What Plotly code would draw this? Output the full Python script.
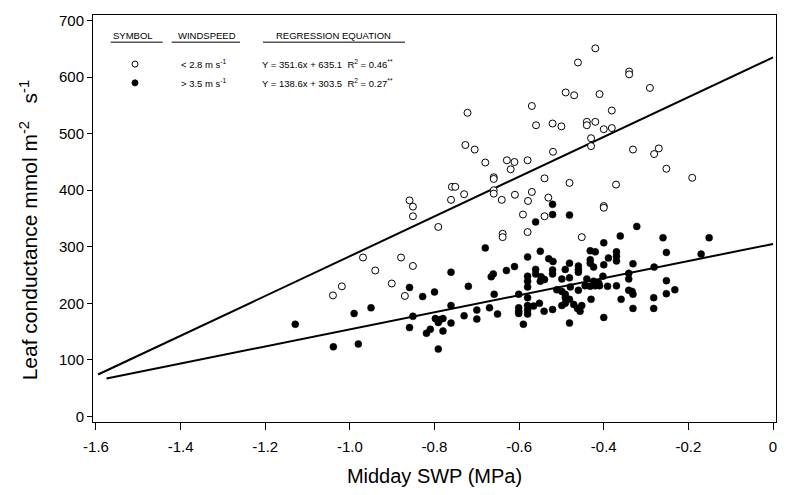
import plotly.graph_objects as go

# ---- data ----
low_wind_x = [-0.420, -0.461, -0.340, -0.340, -0.291, -0.490, -0.470, -0.410, -0.570, -0.381,
              -0.560, -0.521, -0.500, -0.440, -0.440, -0.420, -0.400, -0.381, -0.430, -0.430,
              -0.520, -0.331, -0.270, -0.281, -0.680, -0.629, -0.611, -0.620, -0.580, -0.252,
              -0.191, -0.660, -0.660, -0.540, -0.481, -0.371, -0.660, -0.660, -0.641, -0.610,
              -0.570, -0.579, -0.531, -0.400, -0.400, -0.591, -0.540,
              -0.722, -0.727, -0.705,
              -0.759, -0.751, -0.730, -0.859, -0.851, -0.851, -0.761, -0.791, -0.580, -0.639,
              -0.639, -0.452, -0.879, -0.851, -0.901, -0.870,
              -0.969, -0.940, -1.019, -1.040]
low_wind_y = [651, 626, 610, 605, 581, 573, 568, 570, 549, 541,
              515, 518, 513, 521, 515, 521, 508, 510, 492, 478,
              468, 472, 474, 464, 449, 453, 450, 437, 453, 438,
              422, 423, 420, 421, 413, 410, 400, 394, 383, 392,
              397, 381, 387, 372, 369, 357, 354,
              537, 480, 472,
              406, 406, 393, 382, 371, 354, 383, 335, 326, 323,
              317, 317, 281, 266, 235, 213,
              281, 258, 230, 214]

high_wind_x = [-0.521, -0.521, -0.481, -0.561, -0.322, -0.361, -0.260, -0.151, -0.400, -0.680,
               -0.550, -0.432, -0.420, -0.370, -0.370, -0.370, -0.252, -0.170, -0.580, -0.530,
               -0.520, -0.432, -0.432, -0.389, -0.400, -0.481, -0.491, -0.460, -0.460, -0.460,
               -0.331, -0.281, -0.424, -0.761, -0.630, -0.611, -0.561, -0.561, -0.521, -0.521,
               -0.666, -0.661, -0.580, -0.580, -0.548, -0.540, -0.550, -0.499, -0.481, -0.440,
               -0.424, -0.412, -0.420, -0.402, -0.341, -0.341, -0.252, -0.720, -0.859, -0.800,
               -0.828, -0.580, -0.511, -0.499, -0.491, -0.479, -0.460, -0.444, -0.432, -0.410,
               -0.391, -0.370, -0.341, -0.331, -0.333, -0.252, -0.232, -0.659, -0.601, -0.580,
               -0.491, -0.481, -0.430, -0.359, -0.282, -0.282, -0.761, -0.851, -0.798, -0.788,
               -0.780, -0.791, -0.761, -0.730, -0.700, -0.700, -0.670, -0.651, -0.601, -0.601,
               -0.601, -0.580, -0.580, -0.580, -0.566, -0.552, -0.541, -0.521, -0.499, -0.491,
               -0.471, -0.462, -0.452, -0.456, -0.331, -0.859, -0.819, -0.810, -0.780, -0.791,
               -0.590, -0.481, -0.400, -0.990, -0.950, -1.129, -1.039, -0.980]
high_wind_y = [375, 357, 356, 344, 336, 319, 316, 316, 307, 298,
               292, 293, 291, 291, 283, 275, 290, 287, 282, 279,
               274, 277, 271, 280, 268, 271, 260, 266, 260, 255,
               270, 264, 264, 255, 258, 265, 260, 252, 259, 252,
               247, 252, 248, 239, 247, 242, 239, 243, 245, 243,
               239, 236, 231, 248, 253, 243, 240, 230, 228, 220,
               212, 229, 224, 221, 216, 229, 223, 231, 230, 231,
               230, 231, 223, 216, 221, 217, 224, 216, 216, 210,
               210, 207, 207, 207, 210, 191, 196, 177, 173, 171,
               173, 166, 165, 178, 188, 172, 192, 181, 192, 186,
               182, 196, 188, 181, 195, 200, 186, 189, 196, 200,
               198, 191, 196, 186, 191, 157, 147, 154, 151, 119,
               163, 165, 175, 182, 192, 163, 123, 128]

# fitted regression lines (end points)
fit_low_x = [-1.595, 0.0]
fit_low_y = [74, 635.1]
fit_high_x = [-1.575, 0.0]
fit_high_y = [67, 305]

x_tick_vals = [-1.6, -1.4, -1.2, -1.0, -0.8, -0.6, -0.4, -0.2, 0]
x_tick_text = ["-1.6", "-1.4", "-1.2", "-1.0", "-0.8", "-0.6", "-0.4", "-0.2", "0"]
y_tick_vals = [0, 100, 200, 300, 400, 500, 600, 700]

legend_headers = ["SYMBOL", "WINDSPEED", "REGRESSION EQUATION"]
legend_wind = ["< 2.8 m s<sup>-1</sup>", "> 3.5 m s<sup>-1</sup>"]
legend_eq = ["Y = 351.6x + 635.1  R<sup>2</sup> = 0.46<sup>**</sup>",
             "Y = 138.6x + 303.5  R<sup>2</sup> = 0.27<sup>**</sup>"]
x_title = "Midday SWP (MPa)"
y_title = "Leaf conductance mmol m<sup>-2</sup>   s<sup>-1</sup>"

FONT = "Liberation Sans, Arial, Helvetica, sans-serif"

fig = go.Figure()
fig.add_trace(go.Scatter(x=fit_low_x, y=fit_low_y, mode="lines",
                         line=dict(color="black", width=2), showlegend=False, hoverinfo="skip"))
fig.add_trace(go.Scatter(x=fit_high_x, y=fit_high_y, mode="lines",
                         line=dict(color="black", width=2), showlegend=False, hoverinfo="skip"))
fig.add_trace(go.Scatter(x=low_wind_x, y=low_wind_y, mode="markers",
                         marker=dict(symbol="circle", size=7, color="white",
                                     line=dict(color="black", width=1)),
                         showlegend=False))
fig.add_trace(go.Scatter(x=high_wind_x, y=high_wind_y, mode="markers",
                         marker=dict(symbol="circle", size=7, color="black",
                                     line=dict(color="black", width=0.5)),
                         showlegend=False))

L, R, T, B = 93, 14, 12, 71
W, H = 790, 495
pw, ph = W - L - R, H - T - B


def px_x(p):
    return (p - L) / pw


def px_y(p):
    return (H - B - p) / ph


annotations = []
shapes = []
# legend headers + underlines
hdr_centers = [133, 207, 333]
underlines = [(110.7, 162.7), (171.7, 240), (263, 405)]
for txt, cx, (u0, u1) in zip(legend_headers, hdr_centers, underlines):
    annotations.append(dict(text=txt, x=px_x(cx), y=px_y(33), xref="paper", yref="paper",
                            showarrow=False, xanchor="center", yanchor="middle",
                            font=dict(family=FONT, size=9.5, color="black")))
    shapes.append(dict(type="line", xref="paper", yref="paper",
                       x0=px_x(u0), x1=px_x(u1), y0=px_y(39.5), y1=px_y(39.5),
                       line=dict(color="black", width=1)))

row_y = [61.7, 80.7]
row_fill = ["white", "black"]
for i in range(2):
    shapes.append(dict(type="circle", xref="paper", yref="paper",
                       xsizemode="pixel", ysizemode="pixel",
                       xanchor=px_x(135), yanchor=px_y(row_y[i]),
                       x0=-3, x1=3, y0=-3, y1=3,
                       fillcolor=row_fill[i], line=dict(color="black", width=1)))
    annotations.append(dict(text=legend_wind[i], x=px_x(204), y=px_y(row_y[i]),
                            xref="paper", yref="paper", showarrow=False,
                            xanchor="center", yanchor="middle",
                            font=dict(family=FONT, size=9.5, color="black")))
    annotations.append(dict(text=legend_eq[i], x=px_x(260), y=px_y(row_y[i]),
                            xref="paper", yref="paper", showarrow=False,
                            xanchor="left", yanchor="middle",
                            font=dict(family=FONT, size=9.5, color="black")))

# y-axis title (placed slightly below the plot centre, as in the original)
annotations.append(dict(text=y_title, textangle=-90, x=px_x(29), y=px_y(230),
                        xref="paper", yref="paper", showarrow=False,
                        xanchor="center", yanchor="middle",
                        font=dict(family=FONT, size=21, color="black")))

fig.update_layout(
    width=W, height=H,
    margin=dict(l=L, r=R, t=T, b=B),
    paper_bgcolor="white", plot_bgcolor="white",
    font=dict(family=FONT, color="black"),
    annotations=annotations, shapes=shapes,
    xaxis=dict(range=[-1.607, 0.007], tickvals=x_tick_vals, ticktext=x_tick_text,
               showgrid=False, zeroline=False, showline=True, linecolor="black",
               linewidth=1, mirror=True, ticks="outside", ticklen=7, tickcolor="black",
               tickfont=dict(family=FONT, size=15), ticklabelstandoff=4,
               title=dict(text=x_title, font=dict(family=FONT, size=20),
                          standoff=14)),
    yaxis=dict(range=[-10, 710], tickvals=y_tick_vals,
               showgrid=False, zeroline=False, showline=True, linecolor="black",
               linewidth=1, mirror=True, ticks="outside", ticklen=5, tickcolor="black",
               tickfont=dict(family=FONT, size=15)),
)

fig.write_html("out.html")
